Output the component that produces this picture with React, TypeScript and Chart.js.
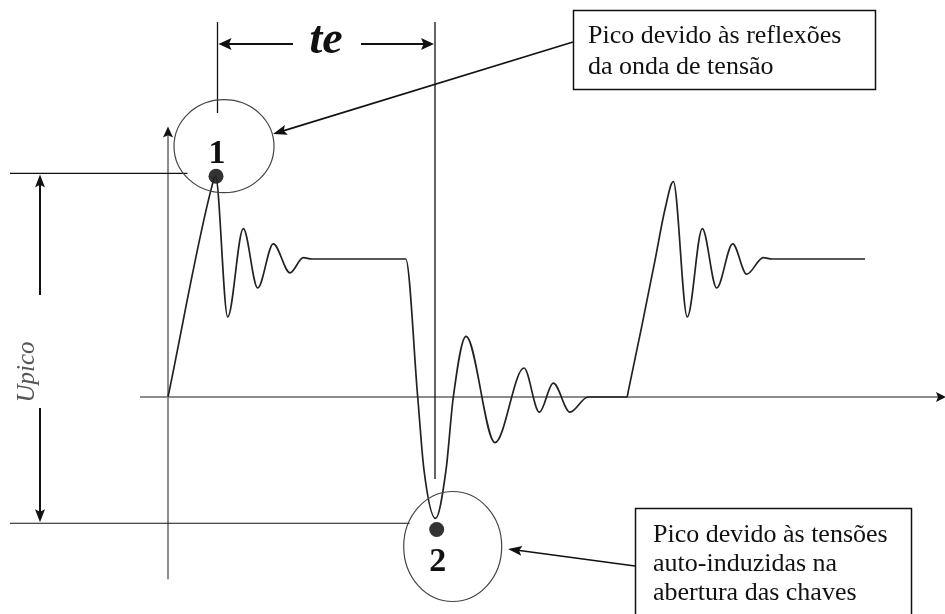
import { useEffect, useRef } from "react";
import { Chart, registerables } from "chart.js";

Chart.register(...registerables);

// Inverter output voltage: time in µs, voltage in p.u. of the DC-link level
const timeUs = [
  0, 4.4, 4.75, 5.97, 7.53, 8.97, 10.53, 12.2, 13.53, 14.4, 23.77,
  24.97, 25.6, 26.75, 27.8, 28.53, 29.8, 32.7, 35.6, 37.13, 38.53, 40.2, 42.0,
  45.9, 46.05, 47.37, 48.7, 49.7, 50.53, 51.93, 53.43, 54.87, 56.47, 57.87, 59.53, 60.4, 69.7,
];
const voltagePu = [
  0, 1.53, 1.6, 0.58, 1.22, 0.79, 1.11, 0.9, 1.01, 1.0, 1.0,
  0, -0.53, -0.88, -0.53, 0, 0.44, -0.33, 0.21, -0.11, 0.1, -0.11, 0,
  0, 0.05, 0.51, 0.99, 1.36, 1.56, 0.58, 1.22, 0.79, 1.11, 0.89, 1.01, 1.0, 1.0,
];

// Marked peaks
const peakTime = [4.8, 26.87];
const peakVolt = [1.6, -0.96];
const peakLabels = ["1", "2"];

// Dimension lines
const UPICO_HIGH = 1.62;
const UPICO_LOW = -0.915;
const TE_START = 4.95;
const TE_END = 26.7;

// Axis extents
const AXIS_T_MIN = -2.8;
const AXIS_T_MAX = 77.8;
const AXIS_U_MIN = -1.32;
const AXIS_U_MAX = 1.96;

const noteReflections = ["Pico devido às reflexões", "da onda de tensão"];
const noteSwitching = ["Pico devido às tensões", "auto-induzidas na", "abertura das chaves"];

const SERIF = '"Liberation Serif", "Times New Roman", serif';

function head(ctx: CanvasRenderingContext2D, x0: number, y0: number, x1: number, y1: number, len: number, half: number) {
  const a = Math.atan2(y1 - y0, x1 - x0);
  const c = Math.cos(a);
  const s = Math.sin(a);
  ctx.beginPath();
  ctx.moveTo(x1, y1);
  ctx.lineTo(x1 - len * c + half * s, y1 - len * s - half * c);
  ctx.lineTo(x1 - len * c * 0.8, y1 - len * s * 0.8);
  ctx.lineTo(x1 - len * c - half * s, y1 - len * s + half * c);
  ctx.closePath();
  ctx.fill();
}

function arrow(ctx: CanvasRenderingContext2D, x0: number, y0: number, x1: number, y1: number, len = 13, half = 5) {
  const a = Math.atan2(y1 - y0, x1 - x0);
  ctx.beginPath();
  ctx.moveTo(x0, y0);
  ctx.lineTo(x1 - Math.cos(a) * len * 0.7, y1 - Math.sin(a) * len * 0.7);
  ctx.stroke();
  head(ctx, x0, y0, x1, y1, len, half);
}

function seg(ctx: CanvasRenderingContext2D, x0: number, y0: number, x1: number, y1: number) {
  ctx.beginPath();
  ctx.moveTo(x0, y0);
  ctx.lineTo(x1, y1);
  ctx.stroke();
}

const axesPlugin = {
  id: "axesLines",
  beforeDatasetsDraw(chart: any) {
    const { ctx, scales } = chart;
    const X = (v: number) => scales.x.getPixelForValue(v);
    const Y = (v: number) => scales.y.getPixelForValue(v);
    ctx.save();
    ctx.strokeStyle = "#8c8c8c";
    ctx.fillStyle = "#111";
    ctx.lineWidth = 2;
    // time axis
    seg(ctx, X(AXIS_T_MIN), Y(0), X(AXIS_T_MAX) - 4, Y(0));
    head(ctx, X(0), Y(0), X(AXIS_T_MAX), Y(0), 10, 5);
    // voltage axis
    seg(ctx, X(0), Y(AXIS_U_MIN), X(0), Y(AXIS_U_MAX) + 6);
    head(ctx, X(0), Y(0), X(0), Y(AXIS_U_MAX), 11, 5);
    ctx.restore();
  },
};

const notesPlugin = {
  id: "notes",
  afterDatasetsDraw(chart: any) {
    const { ctx, scales } = chart;
    const X = (v: number) => scales.x.getPixelForValue(v);
    const Y = (v: number) => scales.y.getPixelForValue(v);
    ctx.save();

    // Upico dimension
    ctx.strokeStyle = "#111";
    ctx.fillStyle = "#111";
    ctx.lineWidth = 1.2;
    seg(ctx, 10, Y(UPICO_HIGH), X(TE_START) - 30, Y(UPICO_HIGH));
    seg(ctx, 10, Y(UPICO_LOW), X(peakTime[1]) - 27, Y(UPICO_LOW));
    ctx.lineWidth = 2;
    arrow(ctx, 40, 295, 40, Y(UPICO_HIGH) + 1, 13, 5);
    arrow(ctx, 40, 408, 40, Y(UPICO_LOW) - 1, 13, 5);
    ctx.save();
    ctx.translate(34, 372);
    ctx.rotate(-Math.PI / 2);
    ctx.font = `italic 25px ${SERIF}`;
    ctx.fillStyle = "#555";
    ctx.textAlign = "center";
    ctx.textBaseline = "alphabetic";
    ctx.fillText("Upico", 0, 0);
    ctx.restore();

    // te dimension
    ctx.lineWidth = 1.3;
    seg(ctx, X(TE_START), 22, X(TE_START), 113);
    seg(ctx, X(TE_END), 22, X(TE_END), 479);
    ctx.lineWidth = 2;
    arrow(ctx, 293, 44, X(TE_START) + 1, 44, 13, 6);
    arrow(ctx, 361, 44, X(TE_END) - 1, 44, 13, 6);
    ctx.font = `italic bold 46px ${SERIF}`;
    ctx.textAlign = "center";
    ctx.fillText("te", 326, 53);

    // circles and numbers around the marked peaks
    const circleOffset = [
      { dx: 8, dy: -30, rx: 50, ry: 46.5, ly: -13 },
      { dx: 16, dy: 17, rx: 49, ry: 55, ly: 42 },
    ];
    peakTime.forEach((t, i) => {
      const px = X(t);
      const py = Y(peakVolt[i]);
      const o = circleOffset[i];
      ctx.strokeStyle = "#444";
      ctx.lineWidth = 1.2;
      ctx.beginPath();
      ctx.ellipse(px + o.dx, py + o.dy, o.rx, o.ry, 0, 0, Math.PI * 2);
      ctx.stroke();
      ctx.fillStyle = "#111";
      ctx.font = `bold 34px ${SERIF}`;
      ctx.textAlign = "center";
      ctx.fillText(peakLabels[i], px + 1, py + o.ly);
    });

    // note boxes
    ctx.textAlign = "left";
    ctx.font = `26px ${SERIF}`;
    ctx.strokeStyle = "#111";
    ctx.lineWidth = 1.5;
    ctx.strokeRect(573.5, 10.5, 302, 79);
    noteReflections.forEach((s, i) => ctx.fillText(s, 588, 43 + i * 31));
    ctx.strokeRect(635.5, 508.5, 276, 120);
    noteSwitching.forEach((s, i) => ctx.fillText(s, 653, 542 + i * 29));

    // leader arrows
    ctx.lineWidth = 1.6;
    arrow(ctx, 573, 42, 273, 134, 14, 5);
    arrow(ctx, 635, 566, 508, 549, 14, 5);

    ctx.restore();
  },
};

export default function App() {
  const ref = useRef<HTMLCanvasElement>(null);

  useEffect(() => {
    if (!ref.current) return;
    const chart = new Chart(ref.current, {
      type: "line",
      data: {
        datasets: [
          {
            label: "Tensão",
            data: timeUs.map((t, i) => ({ x: t, y: voltagePu[i] })),
            borderColor: "#222",
            borderWidth: 1.7,
            pointRadius: 0,
            cubicInterpolationMode: "monotone",
            fill: false,
          },
          {
            type: "scatter",
            label: "Picos",
            data: peakTime.map((t, i) => ({ x: t, y: peakVolt[i] })),
            backgroundColor: "#333",
            borderWidth: 0,
            pointRadius: 7.5,
          } as any,
        ],
      },
      options: {
        responsive: false,
        devicePixelRatio: 1,
        animation: false,
        layout: { padding: 0, autoPadding: false },
        scales: {
          x: { type: "linear", min: -16.8, max: 77.7, display: false },
          y: { type: "linear", min: -1.5725, max: 2.8768, display: false },
        },
        plugins: { legend: { display: false }, tooltip: { enabled: false } },
        events: [],
      },
      plugins: [axesPlugin, notesPlugin],
    });
    return () => chart.destroy();
  }, []);

  return (
    <div style={{ position: "absolute", left: 0, top: 0, width: 945, height: 614, background: "#fff" }}>
      <canvas ref={ref} width={945} height={614} style={{ display: "block" }} />
    </div>
  );
}
